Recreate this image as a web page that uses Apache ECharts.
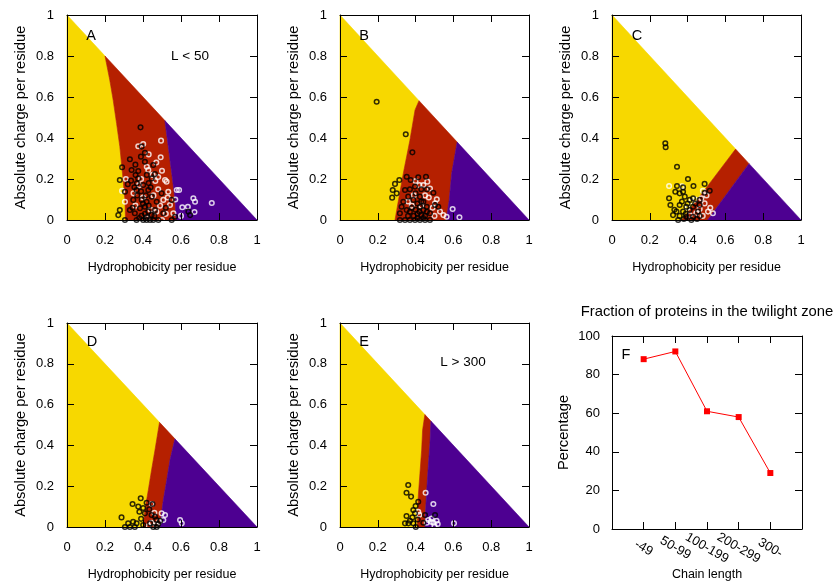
<!DOCTYPE html>
<html>
<head>
<meta charset="utf-8">
<script src="https://cdn.jsdelivr.net/npm/echarts@6/dist/echarts.min.js"></script>
<style>
  html, body { margin: 0; padding: 0; background: #fff; }
  #chart { width: 836px; height: 585px; }
</style>
</head>
<body>
<div id="chart"></div>
<script>
// ---- tick labels and categories ----
const fracTicks = ['0', '0.2', '0.4', '0.6', '0.8', '1'];
const pctTicks = ['0', '20', '40', '60', '80', '100'];
const chainLengths = ['-49', '50-99', '100-199', '200-299', '300-'];
const twilightPct = [88, 92, 61, 58, 29];

// ---- phase boundaries (hydrophobicity, charge), from the diagonal down to charge 0 ----
const yellowRedA = [[0.2, 0.8], [0.225, 0.683], [0.243, 0.585], [0.261, 0.471], [0.278, 0.358], [0.292, 0.228], [0.305, 0.098], [0.308, 0]];
const redPurpleA = [[0.515, 0.485], [0.533, 0.358], [0.551, 0.228], [0.569, 0.098], [0.574, 0]];
const yellowRedB = [[0.418, 0.582], [0.397, 0.537], [0.37, 0.39], [0.335, 0.228], [0.31, 0.1], [0.291, 0]];
const redPurpleB = [[0.62, 0.38], [0.591, 0.228], [0.578, 0.098], [0.562, 0]];
const yellowRedC = [[0.654, 0.346], [0.37, 0]];
const redPurpleC = [[0.725, 0.275], [0.506, 0]];
const yellowRedD = [[0.487, 0.513], [0.463, 0.377], [0.445, 0.279], [0.428, 0.181], [0.41, 0.083], [0.401, 0]];
const redPurpleD = [[0.568, 0.432], [0.542, 0.328], [0.525, 0.23], [0.507, 0.132], [0.495, 0.05], [0.489, 0]];
const yellowRedE = [[0.449, 0.551], [0.437, 0.475], [0.432, 0.377], [0.423, 0.263], [0.414, 0.149], [0.409, 0]];
const redPurpleE = [[0.481, 0.519], [0.476, 0.41], [0.467, 0.296], [0.459, 0.181], [0.453, 0.083], [0.45, 0]];

// ---- proteins: [hydrophobicity, absolute charge] ----
const blackA = [[0.387,0.452],[0.393,0.358],[0.41,0.328],[0.389,0.309],[0.331,0.296],[0.41,0.284],[0.454,0.268],[0.29,0.257],[0.34,0.244],[0.375,0.239],[0.463,0.224],[0.361,0.219],[0.278,0.195],[0.337,0.192],[0.375,0.203],[0.446,0.203],[0.368,0.179],[0.401,0.171],[0.305,0.138],[0.366,0.146],[0.428,0.146],[0.498,0.13],[0.349,0.098],[0.393,0.098],[0.419,0.089],[0.446,0.114],[0.472,0.089],[0.551,0.098],[0.278,0.049],[0.27,0.024],[0.331,0.049],[0.357,0.033],[0.384,0.057],[0.41,0.065],[0.428,0.041],[0.463,0.049],[0.507,0.033],[0.569,0.016],[0.639,0.041],[0.648,0.024],[0.305,0],[0.366,0],[0.401,0],[0.419,0],[0.437,0],[0.454,0],[0.481,0],[0.551,0],[0.392,0.02],[0.41,0.03],[0.42,0.015],[0.445,0.025],[0.4,0.08],[0.43,0.07],[0.37,0.12],[0.355,0.16],[0.32,0.175],[0.39,0.14],[0.415,0.12],[0.44,0.16],[0.345,0.06],[0.46,0.02],[0.38,0.01],[0.52,0.06],[0.43,0.18],[0.36,0.27],[0.42,0.22]];
const whiteA = [[0.401,0.371],[0.375,0.36],[0.495,0.387],[0.493,0.306],[0.428,0.244],[0.516,0.195],[0.524,0.187],[0.29,0.142],[0.305,0.089],[0.533,0.138],[0.578,0.146],[0.59,0.146],[0.665,0.106],[0.674,0.089],[0.762,0.083],[0.607,0.062],[0.636,0.065],[0.671,0.039],[0.542,0.073],[0.507,0.098],[0.56,0.033],[0.39,0.2],[0.42,0.26],[0.465,0.19],[0.48,0.15],[0.455,0.12],[0.49,0.07],[0.52,0.03],[0.47,0.04],[0.44,0.05],[0.4,0.11],[0.35,0.13],[0.38,0.17],[0.47,0.28],[0.43,0.32],[0.5,0.24],[0.36,0.07],[0.42,0.01],[0.5,0.0],[0.57,0.1],[0.6,0.02],[0.45,0.22],[0.53,0.11],[0.31,0.2],[0.48,0.21]];
const blackB = [[0.194,0.577],[0.348,0.418],[0.383,0.33],[0.314,0.195],[0.291,0.176],[0.279,0.146],[0.3,0.13],[0.276,0.109],[0.353,0.211],[0.374,0.195],[0.414,0.208],[0.455,0.211],[0.397,0.163],[0.494,0.133],[0.344,0.146],[0.361,0.114],[0.335,0.089],[0.326,0.065],[0.353,0.049],[0.388,0.098],[0.423,0.114],[0.441,0.089],[0.423,0.065],[0.441,0.049],[0.459,0.065],[0.476,0.033],[0.503,0.073],[0.52,0.065],[0.317,0.033],[0.317,0],[0.344,0],[0.37,0],[0.397,0],[0.423,0],[0.45,0],[0.476,0],[0.41,0.03],[0.43,0.025],[0.39,0.02],[0.37,0.04],[0.45,0.02],[0.46,0.04],[0.41,0.08],[0.43,0.09],[0.4,0.13],[0.37,0.15],[0.43,0.15],[0.46,0.15],[0.38,0.06],[0.42,0.04],[0.44,0.01],[0.4,0.05],[0.41,0.01],[0.36,0.02]];
const whiteB = [[0.462,0.187],[0.441,0.171],[0.476,0.154],[0.512,0.101],[0.503,0.081],[0.529,0.041],[0.547,0.024],[0.564,0.016],[0.596,0.054],[0.632,0.013],[0.38,0.07],[0.42,0.17],[0.4,0.19],[0.45,0.12],[0.47,0.11],[0.49,0.06],[0.36,0.09],[0.39,0.12],[0.5,0.02],[0.43,0.07]];
const blackC = [[0.282,0.374],[0.284,0.355],[0.344,0.26],[0.402,0.2],[0.344,0.166],[0.431,0.166],[0.376,0.159],[0.49,0.176],[0.517,0.143],[0.49,0.133],[0.335,0.138],[0.358,0.13],[0.376,0.138],[0.385,0.114],[0.302,0.106],[0.411,0.098],[0.429,0.106],[0.464,0.098],[0.309,0.073],[0.358,0.073],[0.393,0.065],[0.429,0.065],[0.464,0.073],[0.341,0.041],[0.376,0.041],[0.411,0.049],[0.455,0.041],[0.323,0.024],[0.358,0.02],[0.393,0.016],[0.429,0.016],[0.464,0.02],[0.42,0],[0.4,0.08],[0.37,0.09],[0.44,0.08],[0.35,0.0],[0.38,0.005],[0.45,0.005],[0.33,0.05],[0.39,0.03]];
const whiteC = [[0.302,0.166],[0.481,0.143],[0.473,0.106],[0.49,0.081],[0.464,0.054],[0.508,0.041],[0.534,0.033],[0.446,0.033],[0.411,0.024],[0.5,0.12],[0.44,0.1],[0.52,0.06],[0.48,0.02],[0.42,0.09],[0.37,0.165],[0.4,0.06]];
const blackD = [[0.345,0.113],[0.388,0.141],[0.419,0.119],[0.45,0.113],[0.375,0.1],[0.401,0.093],[0.433,0.087],[0.381,0.075],[0.41,0.067],[0.287,0.047],[0.445,0.059],[0.463,0.051],[0.348,0.026],[0.322,0.018],[0.305,0],[0.366,0.018],[0.401,0.01],[0.437,0.018],[0.472,0],[0.49,0.03],[0.454,0],[0.331,0],[0.357,0],[0.47,0.035],[0.48,0.015],[0.39,0.04]];
const whiteD = [[0.446,0.113],[0.498,0.067],[0.516,0.059],[0.485,0.026],[0.507,0.034],[0.595,0.034],[0.604,0.018],[0.445,0.02],[0.46,0.07],[0.43,0.005],[0.47,0.01]];
const blackE = [[0.361,0.206],[0.352,0.168],[0.376,0.149],[0.414,0.124],[0.4,0.103],[0.388,0.083],[0.397,0.067],[0.352,0.054],[0.383,0.047],[0.37,0.031],[0.344,0.018],[0.362,0.018],[0.388,0.018],[0.411,0.037],[0.401,0],[0.45,0.059],[0.503,0.059],[0.441,0.021]];
const whiteE = [[0.453,0.168],[0.494,0.113],[0.467,0.034],[0.481,0.026],[0.494,0.021],[0.511,0.031],[0.517,0.015],[0.459,0.021],[0.485,0.042],[0.603,0.018],[0.414,0.075],[0.42,0.06],[0.5,0.005]];

// ---- layout and styling ----
const FONT = '"Liberation Sans", Arial, Helvetica, sans-serif';
const FS = 13;
const REGION_COLORS = ['#f7d800', '#b52000', '#4d0091'];

const panels = [
  { grid: { left: 67, top: 15, width: 190, height: 205 }, yr: yellowRedA, rp: redPurpleA, black: blackA, white: whiteA },
  { grid: { left: 340, top: 15, width: 189, height: 205 }, yr: yellowRedB, rp: redPurpleB, black: blackB, white: whiteB },
  { grid: { left: 612, top: 15, width: 189, height: 205 }, yr: yellowRedC, rp: redPurpleC, black: blackC, white: whiteC },
  { grid: { left: 67, top: 323, width: 190, height: 204 }, yr: yellowRedD, rp: redPurpleD, black: blackD, white: whiteD },
  { grid: { left: 340, top: 323, width: 189, height: 204 }, yr: yellowRedE, rp: redPurpleE, black: blackE, white: whiteE }
];
const lineGrid = { left: 612, top: 336, width: 190, height: 193 };

// yellow: left of first boundary; red: between; purple: right of second, all under x + y = 1
function regionPolygons(yr, rp) {
  const yellow = [[0, 1]].concat(yr, [[0, 0]]);
  const red = yr.concat(rp.slice().reverse());
  const purple = rp.concat([[1, 0]]);
  return [yellow, red, purple];
}

const xNameStyle = { color: '#000', fontFamily: FONT, fontSize: 12.5 };
const yNameStyle = { color: '#000', fontFamily: FONT, fontSize: 14.7 };

function tickAxis(extra) {
  return Object.assign({
    type: 'value',
    z: 10,
    axisLine: { show: true, onZero: false, lineStyle: { color: '#000', width: 1 } },
    axisTick: { show: true, inside: true, length: 7, lineStyle: { color: '#000', width: 1 } },
    splitLine: { show: false },
    axisLabel: { show: false }
  }, extra);
}

const grids = [];
const xAxes = [];
const yAxes = [];
const series = [];

panels.forEach(function (p, i) {
  grids.push(Object.assign({ containLabel: false }, p.grid));
  const fracLabelX = {
    show: true, margin: 14, color: '#000', fontFamily: FONT, fontSize: FS,
    formatter: function (v) { return fracTicks[Math.round(v / 0.2)]; }
  };
  const fracLabelY = Object.assign({}, fracLabelX, { margin: 13 });
  xAxes.push(tickAxis({ gridIndex: i, position: 'bottom', min: 0, max: 1, interval: 0.2, axisLabel: fracLabelX,
    name: 'Hydrophobicity per residue', nameLocation: 'middle', nameGap: 41, nameTextStyle: xNameStyle }));
  xAxes.push(tickAxis({ gridIndex: i, position: 'top', min: 0, max: 1, interval: 0.2 }));
  yAxes.push(tickAxis({ gridIndex: i, position: 'left', min: 0, max: 1, interval: 0.2, axisLabel: fracLabelY,
    name: 'Absolute charge per residue', nameLocation: 'middle', nameGap: 39, nameTextStyle: yNameStyle }));
  yAxes.push(tickAxis({ gridIndex: i, position: 'right', min: 0, max: 1, interval: 0.2 }));

  const polys = regionPolygons(p.yr, p.rp);
  series.push({
    type: 'custom',
    xAxisIndex: 2 * i, yAxisIndex: 2 * i,
    silent: true,
    data: [[0], [1], [2]],
    renderItem: function (params, api) {
      const k = api.value(0);
      return {
        type: 'polygon',
        shape: { points: polys[k].map(function (pt) { return api.coord(pt); }) },
        style: { fill: REGION_COLORS[k], stroke: REGION_COLORS[k], lineWidth: 0.6 }
      };
    }
  });
  series.push({
    type: 'scatter', xAxisIndex: 2 * i, yAxisIndex: 2 * i, data: p.white, clip: false,
    symbol: 'circle', symbolSize: 4.6, silent: true,
    itemStyle: { color: 'rgba(0,0,0,0)', borderColor: '#ffffff', borderWidth: 1.5 }
  });
  series.push({
    type: 'scatter', xAxisIndex: 2 * i, yAxisIndex: 2 * i, data: p.black, clip: false,
    symbol: 'circle', symbolSize: 4.6, silent: true,
    itemStyle: { color: 'rgba(0,0,0,0)', borderColor: '#000000', borderWidth: 1.5 }
  });
});

// panel F: fraction of proteins in the twilight zone by chain length
grids.push(Object.assign({ containLabel: false }, lineGrid));
xAxes.push(tickAxis({ gridIndex: 5, position: 'bottom', min: 0, max: chainLengths.length + 1, interval: 1,
  axisLabel: { show: true, rotate: -30, align: 'center', verticalAlign: 'middle', margin: 19,
    color: '#000', fontFamily: FONT, fontSize: FS,
    formatter: function (v) { return chainLengths[v - 1] || ''; } },
  name: 'Chain length', nameLocation: 'middle', nameGap: 34, nameTextStyle: xNameStyle }));
xAxes.push(tickAxis({ gridIndex: 5, position: 'top', min: 0, max: chainLengths.length + 1, interval: 1 }));
yAxes.push(tickAxis({ gridIndex: 5, position: 'left', min: 0, max: 100, interval: 20,
  axisLabel: { show: true, margin: 12, color: '#000', fontFamily: FONT, fontSize: FS,
    formatter: function (v) { return pctTicks[Math.round(v / 20)]; } },
  name: 'Percentage', nameLocation: 'middle', nameGap: 41, nameTextStyle: yNameStyle }));
yAxes.push(tickAxis({ gridIndex: 5, position: 'right', min: 0, max: 100, interval: 20 }));
series.push({
  type: 'line', xAxisIndex: 10, yAxisIndex: 10,
  data: twilightPct.map(function (v, k) { return [k + 1, v]; }),
  symbol: 'rect', symbolSize: 6, showSymbol: true,
  lineStyle: { color: '#ff0000', width: 1 },
  itemStyle: { color: '#ff0000' }
});

function label(text, x, y, size) {
  return { type: 'text', x: x, y: y, silent: true, z: 20,
    style: { text: text, fill: '#000', font: (size || 13) + 'px ' + FONT, align: 'center', verticalAlign: 'middle' } };
}

const chart = echarts.init(document.getElementById('chart'), null, { renderer: 'canvas' });
chart.setOption({
  animation: false,
  backgroundColor: '#fff',
  grid: grids,
  xAxis: xAxes,
  yAxis: yAxes,
  series: series,
  graphic: [
    label('A', 91, 36, 14.5), label('L < 50', 190, 56, 13.5),
    label('B', 364, 36, 14.5),
    label('C', 637, 36, 14.5),
    label('D', 92, 342, 14.5),
    label('E', 364, 342, 14.5), label('L > 300', 463, 362, 13.5),
    label('F', 626, 355, 14.5),
    label('Fraction of proteins in the twilight zone', 707, 312, 14.8)
  ]
});
</script>
</body>
</html>
